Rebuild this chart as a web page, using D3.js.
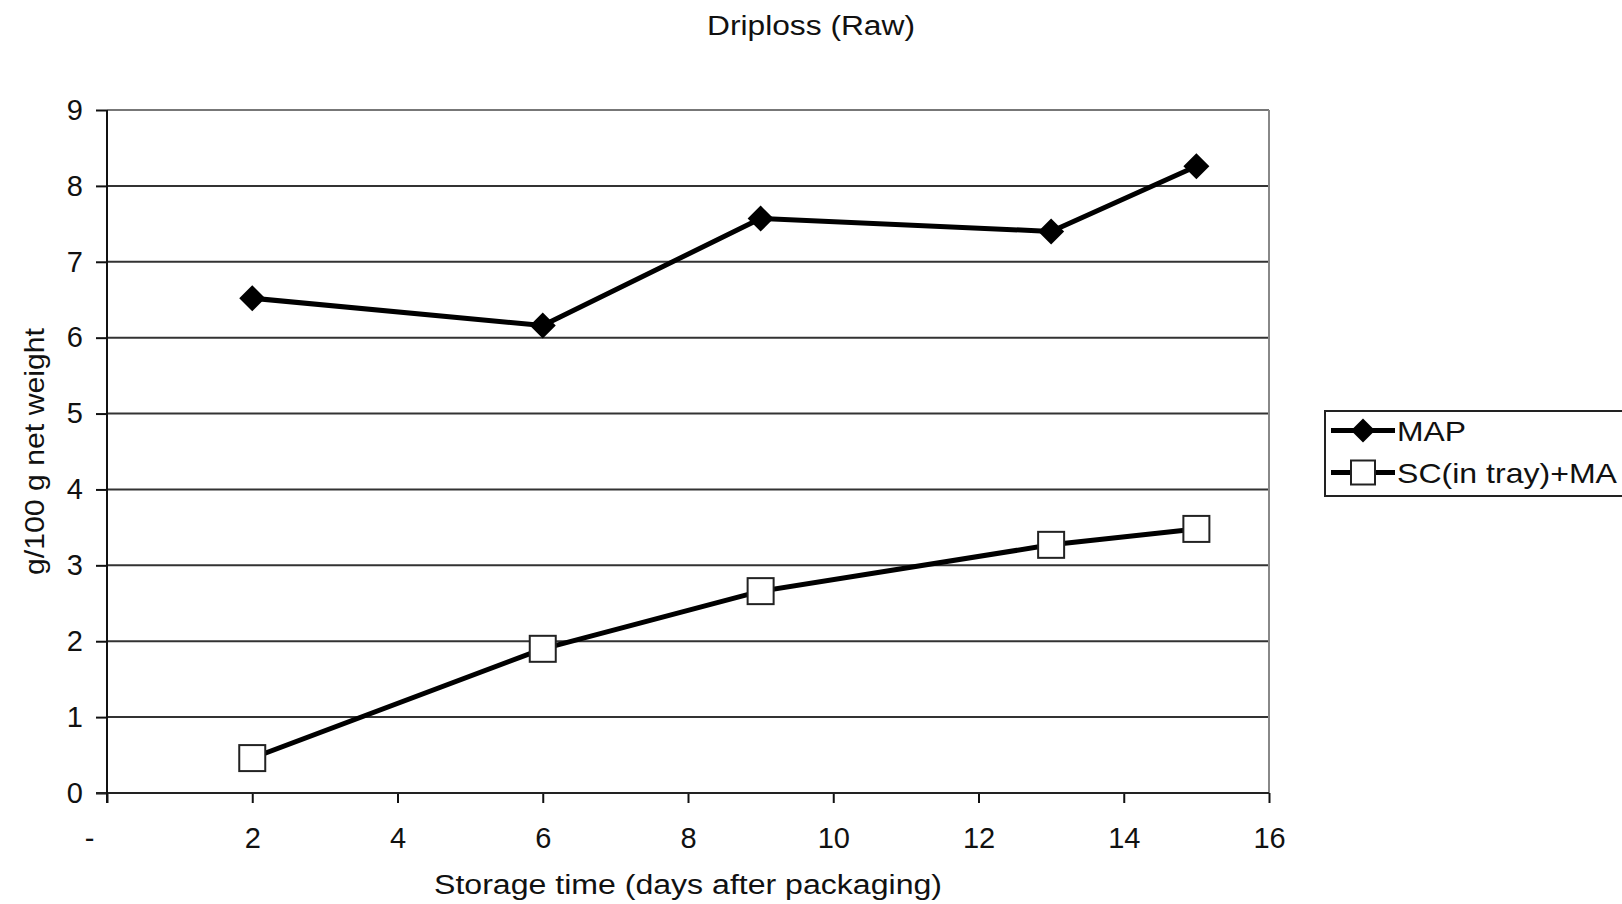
<!DOCTYPE html>
<html><head><meta charset="utf-8">
<script src="https://cdn.jsdelivr.net/npm/d3@7"></script>
<style>
html,body{margin:0;padding:0;background:#fff;}
svg{display:block;}
text{font-family:"Liberation Sans",Arial,sans-serif;fill:#111;}
</style></head>
<body>
<svg id="c" width="1622" height="904"></svg>
<script>
const title = "Driploss (Raw)";
const xTitle = "Storage time (days after packaging)";
const yTitle = "g/100 g net weight";
const days = [2, 6, 9, 13, 15];
const mapValues = [6.52, 6.16, 7.57, 7.40, 8.26];
const scValues = [0.46, 1.90, 2.66, 3.27, 3.48];
const seriesNames = ["MAP", "SC(in tray)+MA"];
const xTicks = [0, 2, 4, 6, 8, 10, 12, 14, 16];
const xTickLabels = ["-", "2", "4", "6", "8", "10", "12", "14", "16"];
const yTicks = [0, 1, 2, 3, 4, 5, 6, 7, 8, 9];
const yTickLabels = ["0", "1", "2", "3", "4", "5", "6", "7", "8", "9"];

const svg = d3.select("#c");
const L = 107, R = 1269, T = 110, B = 793;
const FS = 27, TFS = 29;
const x = d3.scaleLinear().domain([0, 16]).range([L, R]);
const y = d3.scaleLinear().domain([0, 9]).range([B, T]);

// gridlines
svg.append("g").selectAll("line").data(yTicks.filter(d => d > 0)).join("line")
  .attr("x1", L).attr("x2", R)
  .attr("y1", d => y(d)).attr("y2", d => y(d))
  .attr("stroke", d => d === 9 ? "#777" : "#333").attr("stroke-width", 2);
// right border
svg.append("line").attr("x1", R).attr("x2", R).attr("y1", T).attr("y2", B)
  .attr("stroke", "#888").attr("stroke-width", 2);

// y axis
const yAxis = svg.append("g").attr("transform", `translate(${L},0)`)
  .call(d3.axisLeft(y).tickValues(yTicks).tickSize(11).tickSizeOuter(0).tickPadding(13)
    .tickFormat((d, i) => yTickLabels[i]));
yAxis.select(".domain").remove();
yAxis.selectAll(".tick line").attr("stroke", "#111").attr("stroke-width", 2);
yAxis.selectAll(".tick text").attr("font-size", TFS).attr("fill", "#111")
  .attr("font-family", '"Liberation Sans",Arial,sans-serif');

// x axis
const xAxis = svg.append("g").attr("transform", `translate(0,${B})`)
  .call(d3.axisBottom(x).tickValues(xTicks).tickSize(10).tickSizeOuter(0).tickPadding(24)
    .tickFormat((d, i) => xTickLabels[i]));
xAxis.select(".domain").remove();
xAxis.selectAll(".tick line").attr("stroke", "#111").attr("stroke-width", 2);
xAxis.selectAll(".tick text").attr("font-size", TFS).attr("fill", "#111")
  .attr("font-family", '"Liberation Sans",Arial,sans-serif')
  .attr("dx", d => d === 0 ? -18 : 0);

// axis lines
svg.append("line").attr("x1", L - 11).attr("x2", R).attr("y1", B).attr("y2", B)
  .attr("stroke", "#222").attr("stroke-width", 2);
svg.append("line").attr("x1", L).attr("x2", L).attr("y1", T).attr("y2", B + 10)
  .attr("stroke", "#111").attr("stroke-width", 2);

// series lines
const line = d3.line().x(d => x(d[0])).y(d => y(d[1]));
const mapData = days.map((d, i) => [d, mapValues[i]]);
const scData = days.map((d, i) => [d, scValues[i]]);
[mapData, scData].forEach(data => {
  svg.append("path").datum(data).attr("d", line)
    .attr("fill", "none").attr("stroke", "#000").attr("stroke-width", 5)
    .attr("stroke-linejoin", "round");
});

const diamond = (cx, cy, r) => `M${cx},${cy - r}L${cx + r},${cy}L${cx},${cy + r}L${cx - r},${cy}Z`;
svg.append("g").selectAll("path").data(mapData).join("path")
  .attr("d", d => diamond(x(d[0]), y(d[1]), 13)).attr("fill", "#000");
const SQ = 26;
svg.append("g").selectAll("rect").data(scData).join("rect")
  .attr("x", d => x(d[0]) - SQ / 2).attr("y", d => y(d[1]) - SQ / 2)
  .attr("width", SQ).attr("height", SQ)
  .attr("fill", "#fff").attr("stroke", "#222").attr("stroke-width", 2);

// titles
svg.append("text").attr("x", 811).attr("y", 35).attr("text-anchor", "middle")
  .attr("font-size", FS).attr("textLength", 208).attr("lengthAdjust", "spacingAndGlyphs").text(title);
svg.append("text").attr("x", (L + R) / 2).attr("y", 894).attr("text-anchor", "middle")
  .attr("font-size", FS).attr("textLength", 508).attr("lengthAdjust", "spacingAndGlyphs").text(xTitle);
svg.append("text").attr("transform", `translate(44,${(T + B) / 2}) rotate(-90)`)
  .attr("text-anchor", "middle").attr("font-size", 28)
  .attr("textLength", 247).attr("lengthAdjust", "spacingAndGlyphs").text(yTitle);

// legend
const lg = svg.append("g");
lg.append("rect").attr("x", 1325).attr("y", 411).attr("width", 310).attr("height", 85)
  .attr("fill", "#fff").attr("stroke", "#222").attr("stroke-width", 2);
const rows = [430.5, 472.5];
const legendWidths = [69, 220];
rows.forEach((cy, i) => {
  lg.append("line").attr("x1", 1331).attr("x2", 1395).attr("y1", cy).attr("y2", cy)
    .attr("stroke", "#000").attr("stroke-width", 5);
  if (i === 0) {
    lg.append("path").attr("d", diamond(1363, cy, 12)).attr("fill", "#000");
  } else {
    lg.append("rect").attr("x", 1363 - 12).attr("y", cy - 12).attr("width", 24).attr("height", 24)
      .attr("fill", "#fff").attr("stroke", "#222").attr("stroke-width", 2);
  }
  lg.append("text").attr("x", 1397).attr("y", cy + 10).attr("font-size", 28)
    .attr("textLength", legendWidths[i]).attr("lengthAdjust", "spacingAndGlyphs")
    .text(seriesNames[i]);
});
</script>
</body></html>
